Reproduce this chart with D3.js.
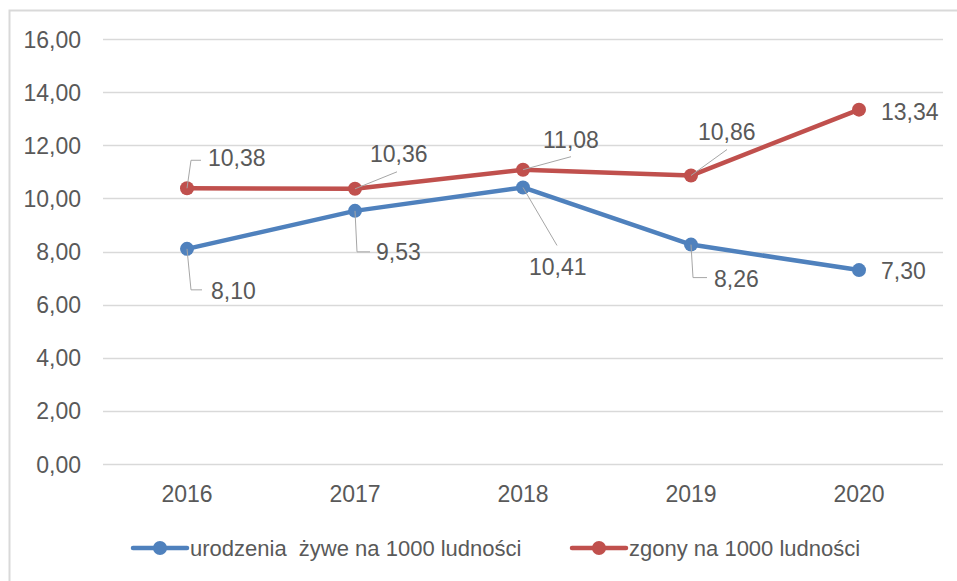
<!DOCTYPE html>
<html>
<head>
<meta charset="utf-8">
<script src="https://cdn.jsdelivr.net/npm/d3@7"></script>
<style>
  body { margin: 0; background: #fff; }
  svg text { font-family: "Liberation Sans", Arial, sans-serif; fill: #595959; }
</style>
</head>
<body>
<div id="chart"></div>
<script>
const years = ["2016", "2017", "2018", "2019", "2020"]
const births = [8.10, 9.53, 10.41, 8.26, 7.30]
const deaths = [10.38, 10.36, 11.08, 10.86, 13.34]
const yTicks = [0, 2, 4, 6, 8, 10, 12, 14, 16]
const seriesNames = ["urodzenia  żywe na 1000 ludności", "zgony na 1000 ludności"]

// label placement relative to its point: text offset + leader polyline
const birthLabels = [
  { tx: 24, ty: 42, leader: [[0, 0], [4, 41], [15, 41]] },
  { tx: 21, ty: 41, leader: [[0, 0], [2, 41], [15, 41]] },
  { tx: 6, ty: 79, leader: [[0, 0], [34, 58]] },
  { tx: 23, ty: 34, leader: [[0, 0], [2, 33], [16, 33]] },
  { tx: 22, ty: 1, leader: null }
]
const deathLabels = [
  { tx: 21, ty: -30, leader: [[0, 0], [4, -28], [14, -28]] },
  { tx: 15, ty: -35, leader: [[0, 0], [42, -17]] },
  { tx: 20, ty: -30, leader: [[0, 0], [48, -13]] },
  { tx: 7, ty: -44, leader: [[0, 0], [36, -26]] },
  { tx: 22, ty: 2, leader: null }
]

const width = 957, height = 581
const margin = { left: 103, right: 14, top: 39, bottom: 117 }
const fontSize = "23px"
const fmt = v => v.toFixed(2).replace(".", ",")

const svg = d3.select("#chart").append("svg")
  .attr("width", width)
  .attr("height", height)

// chart frame
svg.append("rect")
  .attr("x", 9.5).attr("y", 10.5)
  .attr("width", 960).attr("height", 600)
  .attr("fill", "none")
  .attr("stroke", "#d9d9d9")
  .attr("stroke-width", 2)

const x = d3.scaleBand()
  .domain(years)
  .range([margin.left, width - margin.right])

const y = d3.scaleLinear()
  .domain([0, 16])
  .range([height - margin.bottom, margin.top])

// gridlines
svg.append("g")
  .selectAll("line")
  .data(yTicks)
  .join("line")
  .attr("x1", margin.left)
  .attr("x2", width - margin.right)
  .attr("y1", d => Math.round(y(d)) + 0.5)
  .attr("y2", d => Math.round(y(d)) + 0.5)
  .attr("stroke", "#d9d9d9")
  .attr("stroke-width", 1.5)

// y axis labels
const yAxis = svg.append("g")
  .attr("transform", `translate(${margin.left - 12},0)`)
  .call(d3.axisLeft(y).tickValues(yTicks).tickFormat(fmt).tickSize(0))
yAxis.select(".domain").remove()
yAxis.selectAll("text")
  .attr("x", -10)
  .attr("dy", "0.35em")
  .style("font-size", fontSize)
  .style("font-family", "Liberation Sans, Arial, sans-serif")
  .attr("fill", "#595959")

// x axis labels
const xAxis = svg.append("g")
  .attr("transform", `translate(0,${y(0)})`)
  .call(d3.axisBottom(x).tickSize(0))
xAxis.select(".domain").remove()
xAxis.selectAll("text")
  .attr("y", 30)
  .attr("dy", "0.35em")
  .style("font-size", fontSize)
  .style("font-family", "Liberation Sans, Arial, sans-serif")
  .attr("fill", "#595959")

const cx = d => x(d) + x.bandwidth() / 2
const line = d3.line().x(d => d[0]).y(d => d[1])

const series = [
  { values: births, color: "#4f81bd", labels: birthLabels },
  { values: deaths, color: "#c0504d", labels: deathLabels }
]

series.forEach(s => {
  const pts = years.map((yr, i) => [cx(yr), y(s.values[i])])

  svg.append("path")
    .attr("d", line(pts))
    .attr("fill", "none")
    .attr("stroke", s.color)
    .attr("stroke-width", 4.5)
    .attr("stroke-linejoin", "round")
    .attr("stroke-linecap", "round")

  svg.append("g")
    .selectAll("circle")
    .data(pts)
    .join("circle")
    .attr("cx", d => d[0])
    .attr("cy", d => d[1])
    .attr("r", 7)
    .attr("fill", s.color)
})

// data labels with leader lines
series.forEach(s => {
  years.forEach((yr, i) => {
    const px = cx(yr), py = y(s.values[i])
    const lab = s.labels[i]
    if (lab.leader) {
      svg.append("path")
        .attr("d", line(lab.leader.map(p => [px + p[0], py + p[1]])))
        .attr("fill", "none")
        .attr("stroke", "#a6a6a6")
        .attr("stroke-width", 1)
    }
    svg.append("text")
      .attr("x", px + lab.tx)
      .attr("y", py + lab.ty)
      .attr("dy", "0.35em")
      .style("font-size", fontSize)
      .text(fmt(s.values[i]))
  })
})

// legend
const legendX = [133, 572]
const legend = svg.append("g")
seriesNames.forEach((name, i) => {
  const g = legend.append("g").attr("transform", `translate(${legendX[i]},548)`)
  g.append("line")
    .attr("x1", 0).attr("x2", 54)
    .attr("stroke", series[i].color)
    .attr("stroke-width", 4.5)
    .attr("stroke-linecap", "round")
  g.append("circle")
    .attr("cx", 27).attr("r", 7)
    .attr("fill", series[i].color)
  g.append("text")
    .attr("x", 57)
    .attr("dy", "0.35em")
    .attr("xml:space", "preserve")
    .style("white-space", "pre")
    .style("font-size", "22px")
    .text(name)
})
</script>
</body>
</html>
